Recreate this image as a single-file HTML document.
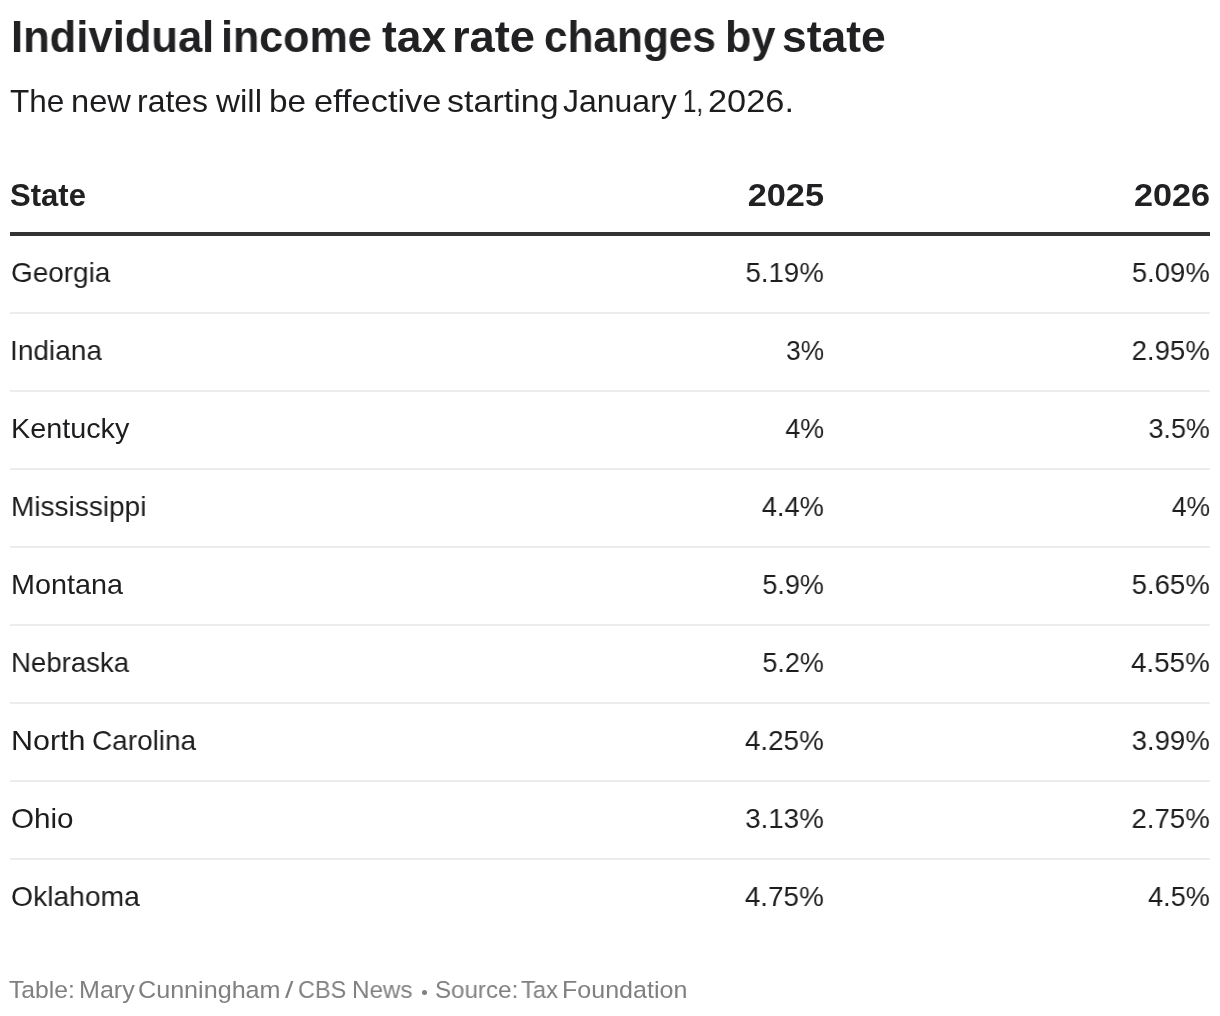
<!DOCTYPE html>
<html><head><meta charset="utf-8"><style>
html,body{margin:0;padding:0;background:#fff;}
body{position:relative;font-family:"Liberation Sans",sans-serif;}
div{position:absolute;white-space:nowrap;line-height:1;transform-origin:left center;will-change:transform;}
.b{font-weight:bold;color:#212123;}
.n{font-weight:normal;color:#1d1d1f;}
.r{transform-origin:right center;}
.f{color:#808080;}
.dot{left:422px;top:989.7px;width:5px;height:5px;border-radius:50%;background:#808080;}
.thick{left:10px;top:232px;width:1200px;height:4px;background:#333;}
.thin{left:10px;width:1200px;height:2px;background:#ececec;}
html,body{width:1220px;height:1016px;overflow:hidden;}
</style></head><body>
<div class="b" style="left:10.73px;top:14.55px;font-size:44px;transform:scaleX(0.9899)">Individual</div>
<div class="b" style="left:220.96px;top:14.55px;font-size:44px;transform:scaleX(0.9785)">income</div>
<div class="b" style="left:382.40px;top:14.55px;font-size:44px;transform:scaleX(1.0079)">tax</div>
<div class="b" style="left:452.11px;top:14.55px;font-size:44px;transform:scaleX(1.0289)">rate</div>
<div class="b" style="left:543.77px;top:14.55px;font-size:44px;transform:scaleX(0.9634)">changes</div>
<div class="b" style="left:724.56px;top:14.55px;font-size:44px;transform:scaleX(0.9813)">by</div>
<div class="b" style="left:781.58px;top:14.55px;font-size:44px;transform:scaleX(1.0101)">state</div>
<div class="n" style="left:9.60px;top:85.83px;font-size:31.5px;transform:scaleX(1.0000)">The</div>
<div class="n" style="left:70.53px;top:85.83px;font-size:31.5px;transform:scaleX(1.0357)">new</div>
<div class="n" style="left:136.97px;top:85.83px;font-size:31.5px;transform:scaleX(1.0134)">rates</div>
<div class="n" style="left:215.80px;top:85.83px;font-size:31.5px;transform:scaleX(1.0524)">will</div>
<div class="n" style="left:269.39px;top:85.83px;font-size:31.5px;transform:scaleX(1.0563)">be</div>
<div class="n" style="left:313.51px;top:85.83px;font-size:31.5px;transform:scaleX(1.0912)">effective</div>
<div class="n" style="left:447.02px;top:85.83px;font-size:31.5px;transform:scaleX(1.0800)">starting</div>
<div class="n" style="left:563.28px;top:85.83px;font-size:31.5px;transform:scaleX(1.0153)">January</div>
<div class="n" style="left:683.47px;top:85.83px;font-size:31.5px;transform:scaleX(0.7667)">1,</div>
<div class="n" style="left:708.32px;top:85.83px;font-size:31.5px;transform:scaleX(1.0905)">2026.</div>
<div class="b" style="left:9.70px;top:179.75px;font-size:31px;transform:scaleX(1.0014)">State</div>
<div class="b r" style="right:396.09px;top:179.75px;font-size:31px;transform:scaleX(1.1060)">2025</div>
<div class="b r" style="right:9.90px;top:179.75px;font-size:31px;transform:scaleX(1.1030)">2026</div>
<div class="n" style="left:10.82px;top:257.87px;font-size:28.5px;transform:scaleX(0.9800)">Georgia</div>
<div class="n r" style="right:396.23px;top:257.87px;font-size:28.5px;transform:scaleX(0.9684)">5.19%</div>
<div class="n r" style="right:10.04px;top:257.87px;font-size:28.5px;transform:scaleX(0.9646)">5.09%</div>
<div class="n" style="left:9.95px;top:335.87px;font-size:28.5px;transform:scaleX(0.9835)">Indiana</div>
<div class="n r" style="right:396.27px;top:335.87px;font-size:28.5px;transform:scaleX(0.9256)">3%</div>
<div class="n r" style="right:10.03px;top:335.87px;font-size:28.5px;transform:scaleX(0.9671)">2.95%</div>
<div class="n" style="left:10.88px;top:413.87px;font-size:28.5px;transform:scaleX(1.0096)">Kentucky</div>
<div class="n r" style="right:396.26px;top:413.87px;font-size:28.5px;transform:scaleX(0.9436)">4%</div>
<div class="n r" style="right:10.05px;top:413.87px;font-size:28.5px;transform:scaleX(0.9460)">3.5%</div>
<div class="n" style="left:11.03px;top:491.87px;font-size:28.5px;transform:scaleX(0.9828)">Mississippi</div>
<div class="n r" style="right:396.24px;top:491.87px;font-size:28.5px;transform:scaleX(0.9571)">4.4%</div>
<div class="n r" style="right:10.07px;top:491.87px;font-size:28.5px;transform:scaleX(0.9333)">4%</div>
<div class="n" style="left:10.98px;top:569.87px;font-size:28.5px;transform:scaleX(1.0092)">Montana</div>
<div class="n r" style="right:396.25px;top:569.87px;font-size:28.5px;transform:scaleX(0.9476)">5.9%</div>
<div class="n r" style="right:10.03px;top:569.87px;font-size:28.5px;transform:scaleX(0.9671)">5.65%</div>
<div class="n" style="left:11.06px;top:647.87px;font-size:28.5px;transform:scaleX(0.9692)">Nebraska</div>
<div class="n r" style="right:396.25px;top:647.87px;font-size:28.5px;transform:scaleX(0.9476)">5.2%</div>
<div class="n r" style="right:10.03px;top:647.87px;font-size:28.5px;transform:scaleX(0.9747)">4.55%</div>
<div class="n" style="left:10.86px;top:725.87px;font-size:28.5px;transform:scaleX(1.0682)">North</div>
<div class="n" style="left:91.92px;top:725.87px;font-size:28.5px;transform:scaleX(0.9810)">Carolina</div>
<div class="n r" style="right:396.22px;top:725.87px;font-size:28.5px;transform:scaleX(0.9759)">4.25%</div>
<div class="n r" style="right:10.03px;top:725.87px;font-size:28.5px;transform:scaleX(0.9671)">3.99%</div>
<div class="n" style="left:10.76px;top:803.87px;font-size:28.5px;transform:scaleX(1.0397)">Ohio</div>
<div class="n r" style="right:396.23px;top:803.87px;font-size:28.5px;transform:scaleX(0.9722)">3.13%</div>
<div class="n r" style="right:10.03px;top:803.87px;font-size:28.5px;transform:scaleX(0.9696)">2.75%</div>
<div class="n" style="left:10.81px;top:881.87px;font-size:28.5px;transform:scaleX(0.9922)">Oklahoma</div>
<div class="n r" style="right:396.22px;top:881.87px;font-size:28.5px;transform:scaleX(0.9772)">4.75%</div>
<div class="n r" style="right:10.05px;top:881.87px;font-size:28.5px;transform:scaleX(0.9524)">4.5%</div>
<div class="f" style="left:9.49px;top:978.26px;font-size:24.5px;transform:scaleX(1.0081)">Table:</div>
<div class="f" style="left:78.55px;top:978.26px;font-size:24.5px;transform:scaleX(1.0231)">Mary</div>
<div class="f" style="left:138.25px;top:978.26px;font-size:24.5px;transform:scaleX(1.0259)">Cunningham</div>
<div class="f" style="left:285.40px;top:978.26px;font-size:24.5px;transform:scaleX(1.2333)">/</div>
<div class="f" style="left:297.79px;top:978.26px;font-size:24.5px;transform:scaleX(0.9574)">CBS</div>
<div class="f" style="left:352.22px;top:978.26px;font-size:24.5px;transform:scaleX(0.9879)">News</div>
<div class="f" style="left:435.13px;top:978.26px;font-size:24.5px;transform:scaleX(0.9850)">Source:</div>
<div class="f" style="left:520.83px;top:978.26px;font-size:24.5px;transform:scaleX(0.9667)">Tax</div>
<div class="f" style="left:561.85px;top:978.26px;font-size:24.5px;transform:scaleX(1.0227)">Foundation</div>
<div class="thick"></div>
<div class="thin" style="top:312px"></div>
<div class="thin" style="top:390px"></div>
<div class="thin" style="top:468px"></div>
<div class="thin" style="top:546px"></div>
<div class="thin" style="top:624px"></div>
<div class="thin" style="top:702px"></div>
<div class="thin" style="top:780px"></div>
<div class="thin" style="top:858px"></div>
<div class="dot"></div>
</body></html>
